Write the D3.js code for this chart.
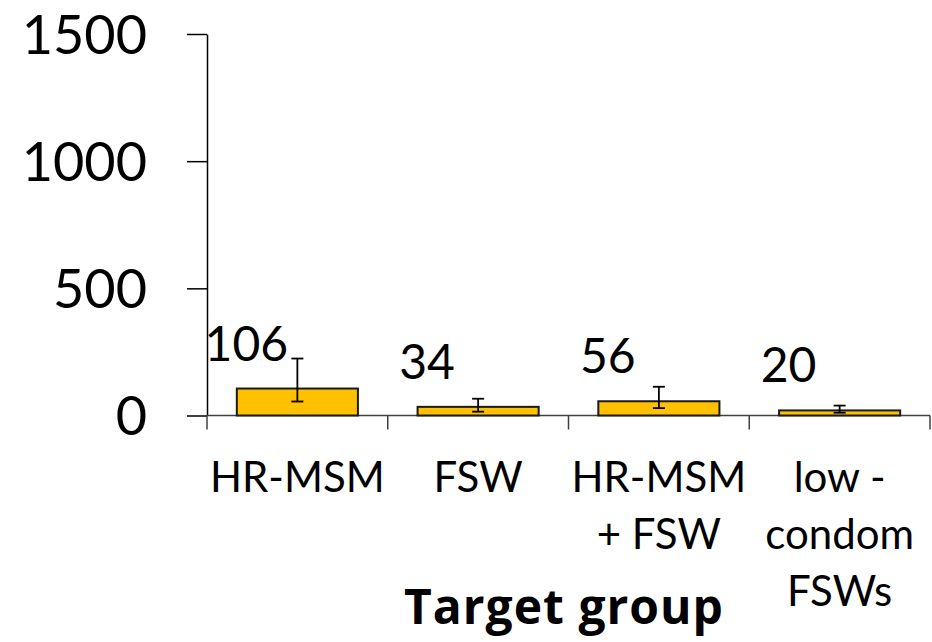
<!DOCTYPE html>
<html>
<head>
<meta charset="utf-8">
<script src="https://cdn.jsdelivr.net/npm/d3@7"></script>
<style>
  html, body { margin: 0; padding: 0; background: #fff; }
  svg { display: block; font-family: Lato, "Open Sans", sans-serif; }
</style>
</head>
<body>
<svg id="chart" width="932" height="642"></svg>
<script>
// ---- data ----
const categories = [["HR-MSM"], ["FSW"], ["HR-MSM", "+ FSW"], ["low -", "condom", "FSWs"]];
const categoryKeys = ["HR-MSM", "FSW", "HR-MSM + FSW", "low-condom FSWs"];
const values = [106, 34, 56, 20];
const errLow = [55, 15, 29, 11];
const errHigh = [224, 66, 113, 39];
const yTicks = [0, 500, 1000, 1500];
const xTitle = "Target group";

// ---- layout ----
const svg = d3.select("#chart");
const pL = 207, pR = 930, pT = 34, pB = 415.5;

const x = d3.scaleBand().domain(categoryKeys).range([pL, pR])
  .paddingInner(0.33).paddingOuter(0.165);
const y = d3.scaleLinear().domain([0, 1500]).range([pB, pT]);

// y axis
const yAxis = d3.axisLeft(y).tickValues(yTicks).tickFormat(d3.format("d"))
  .tickSize(20).tickPadding(40).tickSizeOuter(0);
const gy = svg.append("g").attr("transform", `translate(${pL},0)`).call(yAxis);
gy.select(".domain").attr("stroke", "#000").attr("stroke-width", 1.5);
gy.selectAll(".tick line").attr("stroke", "#000").attr("stroke-width", 1.5);
gy.selectAll(".tick text").attr("font-size", 54).attr("fill", "#000")
  .attr("font-family", "Lato, sans-serif").attr("dy", "0.36em");

// x axis line
svg.append("line").attr("x1", pL).attr("x2", pR).attr("y1", pB).attr("y2", pB)
  .attr("stroke", "#404040").attr("stroke-width", 1.5);
// category boundary ticks
const step = x.step();
const boundaries = d3.range(categoryKeys.length + 1).map(i => pL + i * step);
svg.append("g").selectAll("line").data(boundaries).join("line")
  .attr("x1", d => d).attr("x2", d => d).attr("y1", pB).attr("y2", pB + 14)
  .attr("stroke", "#404040").attr("stroke-width", 1.5);

// bars
const bw = x.bandwidth();
svg.append("g").selectAll("rect").data(values).join("rect")
  .attr("x", (d, i) => x(categoryKeys[i]))
  .attr("y", d => y(d))
  .attr("width", bw)
  .attr("height", d => y(0) - y(d))
  .attr("fill", "#FFC000")
  .attr("stroke", "#1a1a1a")
  .attr("stroke-width", 2);

// error bars
const eg = svg.append("g").attr("stroke", "#000").attr("stroke-width", 1.8);
values.forEach((v, i) => {
  const cx = x(categoryKeys[i]) + bw / 2;
  eg.append("line").attr("x1", cx).attr("x2", cx).attr("y1", y(errLow[i])).attr("y2", y(errHigh[i]));
  eg.append("line").attr("x1", cx - 6).attr("x2", cx + 6).attr("y1", y(errLow[i])).attr("y2", y(errLow[i]));
  eg.append("line").attr("x1", cx - 6).attr("x2", cx + 6).attr("y1", y(errHigh[i])).attr("y2", y(errHigh[i]));
});

// value labels
svg.append("g").selectAll("text").data(values).join("text")
  .attr("x", (d, i) => x(categoryKeys[i]) + bw / 2 - 51)
  .attr("y", d => y(d) - 28)
  .attr("text-anchor", "middle")
  .attr("font-size", 48)
  .attr("fill", "#000")
  .text(d => d);

// category labels
const cg = svg.append("g");
categories.forEach((lines, i) => {
  const cx = x(categoryKeys[i]) + bw / 2;
  const t = cg.append("text").attr("text-anchor", "middle").attr("font-size", 42).attr("fill", "#000");
  lines.forEach((ln, j) => {
    t.append("tspan").attr("x", cx).attr("y", 492 + j * 57).text(ln);
  });
});

// axis title
svg.append("text").attr("x", 564).attr("y", 624)
  .attr("text-anchor", "middle").attr("font-size", 48).attr("font-weight", "bold")
  .attr("font-family", "'Open Sans', sans-serif").attr("letter-spacing", 1)
  .attr("fill", "#000").text(xTitle);
</script>
</body>
</html>
